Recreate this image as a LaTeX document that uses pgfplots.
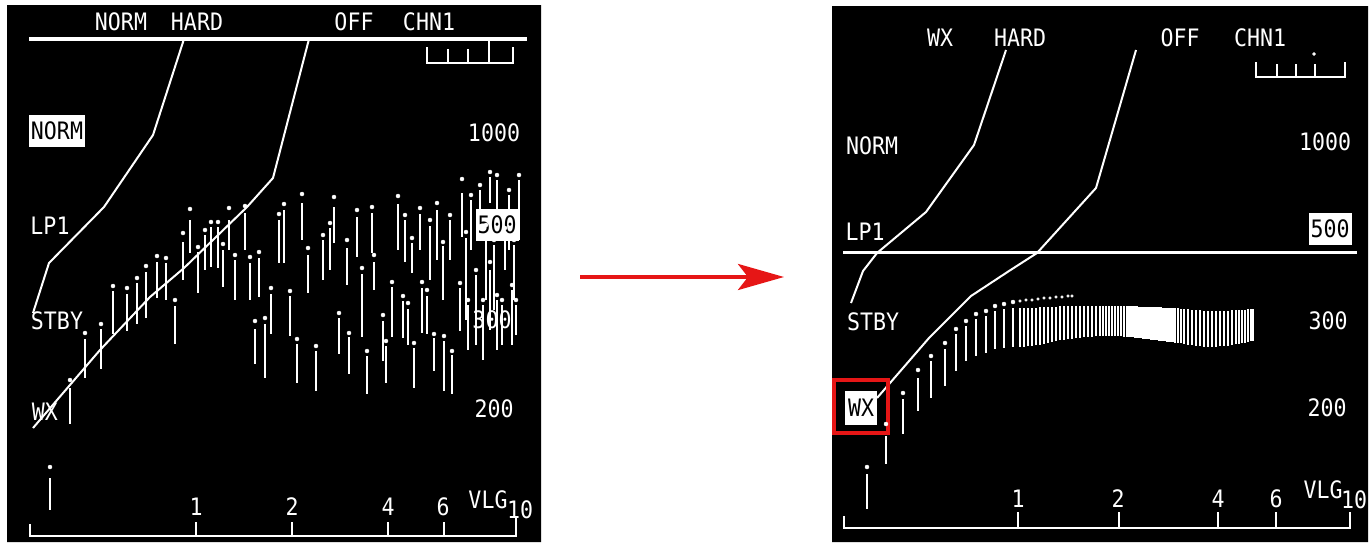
\documentclass[border=0pt]{standalone}
\usepackage{pgfplots}
\pgfplotsset{compat=1.18}
\usepackage{pgfplotstable}
\usepackage{fontspec}
\usetikzlibrary{arrows.meta}
\newfontfamily\disp[FakeStretch=0.9]{DejaVu Sans Mono}
\definecolor{arrowred}{RGB}{230,22,22}

% left panel bars: x, dot y, bar top, bar bottom (image pixels, y downward)
\pgfplotstableread{
x d t b
50 467 478 510
70 380 388 424
85 333 339 378
101 324 329 369
113 286 291 334
127 288 294 331
137 278 283 324
146 266 272 318
157 256 262 298
166 258 263 300
175 300 306 344
183 233 242 280
190 209 220 253
198 247 252 293
205 230 235 270
211 222 227 267
218 222 227 268
223 244 250 287
229 208 220 250
235 255 260 300
245 206 213 250
250 257 263 300
255 321 329 364
259 252 258 297
265 318 324 378
271 288 294 334
279 214 220 263
284 204 210 263
290 291 296 336
297 339 344 383
302 194 203 240
308 248 255 293
316 346 351 391
323 235 240 280
330 223 228 270
334 197 207 243
339 313 318 354
347 240 248 285
349 333 337 374
357 210 217 257
362 268 274 337
367 351 356 394
372 207 213 253
374 255 262 290
383 315 321 361
386 341 346 383
392 282 287 337
398 196 204 250
403 296 301 338
405 215 220 262
408 303 309 345
412 238 243 273
414 343 348 388
420 208 214 250
422 282 288 333
427 290 296 334
430 220 226 280
434 334 338 371
437 203 210 260
443 242 246 300
444 336 341 391
450 215 220 260
452 351 355 394
460 283 288 331
462 179 193 237
466 232 238 320
468 300 305 350
471 195 200 250
476 270 275 345
480 185 190 240
483 300 305 360
486 225 230 300
490 172 177 203
490 262 270 330
494 240 245 310
497 175 180 210
497 295 300 350
502 300 305 345
505 228 233 270
509 190 195 250
512 285 290 345
514 240 245 300
519 175 180 240
516 300 305 335
}\leftbars

% right panel sparse bars: x, dot y, bar top, bar bottom
\pgfplotstableread{
x d t b
867 467 474 509
886 424 436 464
903 393 399 434
918 370 378 411
931 356 361 398
945 343 349 386
956 329 334 371
966 321 326 361
976 314 319 356
986 311 316 353
995 306 311 349
1004 304 309 348
1013 302 308 347
}\rightsparse

% right panel dense bars: x, bar top, bar bottom
\pgfplotstableread{
x t b
1020 308 347
1024 308 347
1028 308 346
1032 308 346
1036 308 345
1040 307 345
1044 307 344
1048 307 343
1052 307 342
1056 307 341
1060 306 340
1064 306 340
1068 306 339
1072 306 339
1076 306 338
1080 306 338
1084 306 337
1088 306 337
1092 306 337
1096 306 336
1100 306 336
1103 306 336
1106 306 336
1109 306 336
1112 306 336
1115 306 336
1118 306 336
1121 306 336
1124 306 337
1127 306 337
1129 306 337
1131 306 337
1133 306 337
1135 306 338
1137 306 338
1139 307 338
1141 307 338
1143 307 339
1145 307 339
1147 307 339
1149 307 339
1151 307 340
1153 307 340
1155 307 340
1157 307 340
1159 307 341
1161 307 341
1163 308 341
1165 308 341
1167 308 342
1169 308 342
1171 308 342
1173 308 342
1175 308 343
1178 308 343
1181 309 343
1184 309 344
1188 309 345
1192 310 345
1196 310 346
1200 310 346
1204 311 347
1208 311 347
1212 311 347
1216 311 347
1220 311 346
1224 311 346
1228 311 346
1232 310 345
1236 310 344
1239 310 344
1242 310 343
1245 310 343
1248 309 342
1251 309 341
1253 309 341
}\rightdense

\begin{document}
\begin{tikzpicture}
\tikzset{lab/.style={text=white, font=\disp\fontsize{24}{26}\selectfont, inner sep=1pt},
         inv/.style={fill=white, text=black, font=\disp\fontsize{24}{26}\selectfont, inner xsep=2pt, inner ysep=7pt}}
\begin{axis}[at={(0,0)}, anchor=south west, scale only axis,
  width=1370pt, height=542pt,
  xmin=0, xmax=1370, ymin=0, ymax=542, y dir=reverse,
  hide axis, clip=false]

% white page and black panels
\addplot[fill=white, draw=none, forget plot] coordinates {(0,0) (1370,0) (1370,542) (0,542) (0,0)};
\addplot[fill=black, draw=none, forget plot] coordinates {(7,5) (541,5) (541,542) (7,542) (7,5)};
\addplot[fill=black, draw=none, forget plot] coordinates {(832,6) (1368,6) (1368,542) (832,542) (832,6)};

% ===================== LEFT PANEL =====================
\node[lab] at (axis cs:121,22) {NORM};
\node[lab] at (axis cs:197,22) {HARD};
\node[lab] at (axis cs:354,22) {OFF};
\node[lab] at (axis cs:429,22) {CHN1};
\node[lab] at (axis cs:50,226) {LP1};
\node[lab] at (axis cs:57,321) {STBY};
\node[lab] at (axis cs:45,412) {WX};
\node[lab] at (axis cs:494,133) {1000};
\node[lab] at (axis cs:492,320) {300};
\node[lab] at (axis cs:494,409) {200};
\node[lab] at (axis cs:196,507) {1};
\node[lab] at (axis cs:292,507) {2};
\node[lab] at (axis cs:388,507) {4};
\node[lab] at (axis cs:443,507) {6};
\node[lab] at (axis cs:520,510) {10};
\node[lab] at (axis cs:488,500) {VLG};

\addplot[white, line width=4pt, forget plot] coordinates {(29,39) (527,39)};
\addplot[white, line width=2pt, forget plot] coordinates {(427,47) (427,63) (513,63) (513,47)};
\addplot[white, line width=2pt, forget plot] coordinates {(448,49) (448,63)};
\addplot[white, line width=2pt, forget plot] coordinates {(468,49) (468,63)};
\addplot[white, line width=2pt, forget plot] coordinates {(489,40) (489,63)};

\addplot[white, line width=2pt, forget plot] coordinates {(184,39) (153,135) (104,207) (49,263) (33,313)};
\addplot[white, line width=2pt, forget plot] coordinates {(309,39) (273,178) (247,207) (184,268) (150,297) (100,350) (33,428)};

\addplot[white, line width=2.8pt, mark=none, forget plot,
  quiver={u=0, v=\thisrow{b}-\thisrow{t}}] table[x=x, y=t] {\leftbars};
\addplot[white, only marks, mark=*, mark size=2pt, forget plot] table[x=x, y=d] {\leftbars};

\node[inv] at (axis cs:57,131) {NORM};
\node[inv] at (axis cs:497,225) {500};

\addplot[white, line width=2.5pt, forget plot] coordinates {(30,524) (30,536) (516,536) (516,518)};
\addplot[white, line width=2pt, forget plot] coordinates {(196,522) (196,536)};
\addplot[white, line width=2pt, forget plot] coordinates {(292,522) (292,536)};
\addplot[white, line width=2pt, forget plot] coordinates {(388,522) (388,536)};
\addplot[white, line width=2pt, forget plot] coordinates {(444,522) (444,536)};

% ===================== RIGHT PANEL =====================
\node[lab] at (axis cs:940,38) {WX};
\node[lab] at (axis cs:1020,38) {HARD};
\node[lab] at (axis cs:1180,38) {OFF};
\node[lab] at (axis cs:1260,38) {CHN1};
\node[lab] at (axis cs:872,146) {NORM};
\node[lab] at (axis cs:865,232) {LP1};
\node[lab] at (axis cs:873,322) {STBY};
\node[lab] at (axis cs:1325,142) {1000};
\node[lab] at (axis cs:1328,321) {300};
\node[lab] at (axis cs:1327,408) {200};
\node[lab] at (axis cs:1018,499) {1};
\node[lab] at (axis cs:1118,499) {2};
\node[lab] at (axis cs:1218,499) {4};
\node[lab] at (axis cs:1276,499) {6};
\node[lab] at (axis cs:1354,500) {10};
\node[lab] at (axis cs:1323,490) {VLG};

\addplot[white, line width=2pt, forget plot] coordinates {(1256,62) (1256,77) (1345,77) (1345,62)};
\addplot[white, line width=2pt, forget plot] coordinates {(1277,64) (1277,77)};
\addplot[white, line width=2pt, forget plot] coordinates {(1296,64) (1296,77)};
\addplot[white, line width=2pt, forget plot] coordinates {(1315,64) (1315,77)};
\addplot[white, only marks, mark=*, mark size=1.5pt, forget plot] coordinates {(1314,54)};

\addplot[white, line width=3pt, forget plot] coordinates {(843,252) (1357,252)};
\addplot[white, line width=2pt, forget plot] coordinates {(1006,50) (974,145) (926,212) (877,253) (863,271) (851,303)};
\addplot[white, line width=2pt, forget plot] coordinates {(1136,50) (1096,188) (1037,253) (1009,271) (971,296) (929,338) (877,398)};

\addplot[white, line width=2.6pt, mark=none, forget plot,
  quiver={u=0, v=\thisrow{b}-\thisrow{t}}] table[x=x, y=t] {\rightsparse};
\addplot[white, only marks, mark=*, mark size=2pt, forget plot] table[x=x, y=d] {\rightsparse};
\addplot[white, line width=2.6pt, mark=none, forget plot,
  quiver={u=0, v=\thisrow{b}-\thisrow{t}}] table[x=x, y=t] {\rightdense};
\addplot[white, only marks, mark=*, mark size=1.4pt, forget plot] coordinates {
  (1020,301) (1026,300) (1032,300) (1038,299) (1044,298) (1050,298) (1056,297) (1062,297) (1068,296) (1072,296)};

\node[inv] at (axis cs:1330,229) {500};
\node[inv, inner xsep=3pt, inner ysep=8pt] at (axis cs:861,408) {WX};
\draw[arrowred, line width=3.5pt] (axis cs:834,380) rectangle (axis cs:888,433);

\addplot[white, line width=2.5pt, forget plot] coordinates {(844,516) (844,528) (1350,528) (1350,512)};
\addplot[white, line width=2pt, forget plot] coordinates {(1018,512) (1018,528)};
\addplot[white, line width=2pt, forget plot] coordinates {(1119,512) (1119,528)};
\addplot[white, line width=2pt, forget plot] coordinates {(1218,512) (1218,528)};
\addplot[white, line width=2pt, forget plot] coordinates {(1276,512) (1276,528)};

% red arrow between the panels
\draw[arrowred, line width=4pt, -{Stealth[length=46pt, width=26pt, inset=10pt]}] (axis cs:580,277) -- (axis cs:784,277);
\end{axis}
\end{tikzpicture}
\end{document}
